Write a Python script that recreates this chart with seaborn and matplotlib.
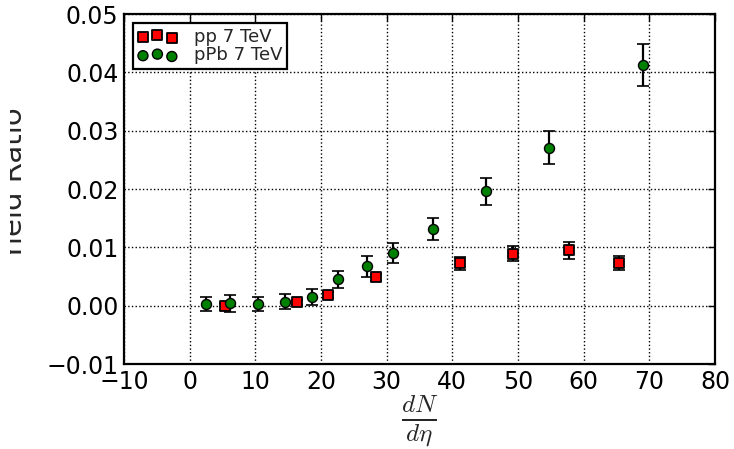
import numpy as np
import pandas as pd
import matplotlib
matplotlib.use("Agg")
import matplotlib.pyplot as plt
import seaborn as sns
from matplotlib.transforms import Bbox, TransformedBbox

# ---- data ----
pp_x = [5.4, 16.3, 21.1, 28.3, 41.2, 49.3, 57.8, 65.4]
pp_y = [-0.0001, 0.0006, 0.0018, 0.0049, 0.0073, 0.0089, 0.0095, 0.0074]
pp_err = [0.0006, 0.0004, 0.0005, 0.0006, 0.0011, 0.0013, 0.0015, 0.0012]

ppb_x = [2.5, 6.1, 10.4, 14.5, 18.6, 22.6, 27.0, 31.0, 37.0, 45.2, 54.7, 69.1]
ppb_y = [0.0003, 0.0004, 0.0003, 0.0007, 0.0015, 0.0045, 0.0068, 0.0090,
         0.0132, 0.0196, 0.0271, 0.0413]
ppb_err = [0.0012, 0.0014, 0.0012, 0.0013, 0.0013, 0.0015, 0.0018, 0.0017,
           0.0019, 0.0023, 0.0028, 0.0036]

x_ticks = [-10, 0, 10, 20, 30, 40, 50, 60, 70, 80]
y_ticks = [-0.01, 0.00, 0.01, 0.02, 0.03, 0.04, 0.05]
labels = ["pp 7 TeV", "pPb 7 TeV"]

pp = pd.DataFrame({"x": pp_x, "y": pp_y, "err": pp_err})
ppb = pd.DataFrame({"x": ppb_x, "y": ppb_y, "err": ppb_err})

sns.set_style("white")
plt.rcParams['font.family'] = ['DejaVu Sans']
plt.rcParams['mathtext.fontset'] = 'cm'

fig = plt.figure(figsize=(7.34, 4.49), dpi=100)
ax = fig.add_axes([124/734, 1-364/449, (715-124)/734, (364-14)/449])

for df in (pp, ppb):
    ax.errorbar(df["x"], df["y"], yerr=df["err"], fmt="none", ecolor="black",
                elinewidth=1.6, capsize=4.5, capthick=1.2, zorder=2)

sns.scatterplot(data=pp, x="x", y="y", marker="s", color="red", edgecolor="black",
                linewidth=1.3, s=50, label=labels[0], ax=ax, zorder=3)
sns.scatterplot(data=ppb, x="x", y="y", marker="o", color="green", edgecolor="black",
                linewidth=1.0, s=52, label=labels[1], ax=ax, zorder=4)

ax.set_xlim(-10, 80)
ax.set_ylim(-0.01, 0.05)
ax.set_xticks(x_ticks)
ax.set_yticks(y_ticks)
ax.grid(True, linestyle=":", color="black", linewidth=1.0)
ax.tick_params(direction="in", top=True, right=True, length=5, width=1,
               labelsize=17, pad=4, colors="black")
for sp in ax.spines.values():
    sp.set_linewidth(1.6)
    sp.set_color("black")

ax.set_xlabel(r"$\frac{dN}{d\eta}$", fontsize=26, labelpad=0)
ylab = ax.set_ylabel("Yield Ratio", fontsize=21)
ax.yaxis.set_label_coords(-0.162, 0.514)
ylab.set_clip_box(TransformedBbox(Bbox([[10/734, 0], [1, 1]]), fig.transFigure))
ylab.set_clip_on(True)

leg = ax.legend(loc="upper left", scatterpoints=3, fontsize=13, frameon=True,
                fancybox=False, borderpad=0.25, labelspacing=0.05,
                handlelength=2.2, handletextpad=0.9, borderaxespad=0.5)
leg.get_frame().set_edgecolor("black")
leg.get_frame().set_linewidth(1.6)
leg.get_frame().set_alpha(1)

fig.savefig("out.png", dpi=100)
